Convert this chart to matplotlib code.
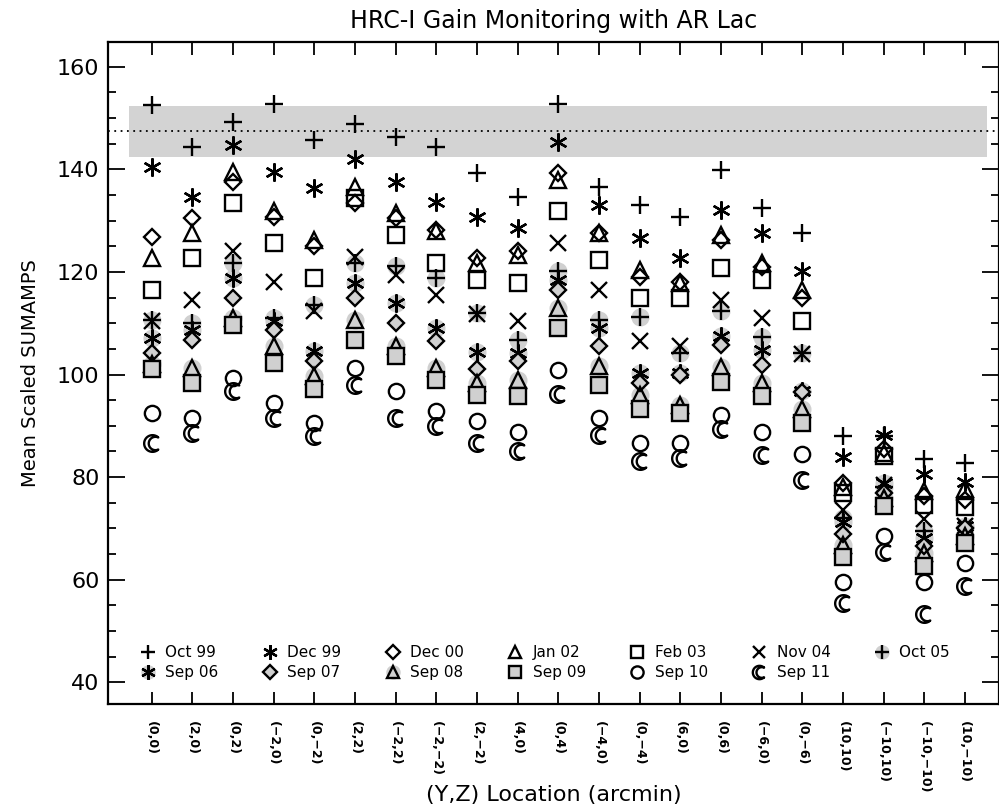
import numpy as np
import matplotlib
matplotlib.use("Agg")
import matplotlib.pyplot as plt
from matplotlib.path import Path

# field positions (Y,Z) in arcmin
locations = ["(0,0)", "(2,0)", "(0,2)", "(\u22122,0)", "(0,\u22122)", "(2,2)", "(\u22122,2)",
             "(\u22122,\u22122)", "(2,\u22122)", "(4,0)", "(0,4)", "(\u22124,0)", "(0,\u22124)",
             "(6,0)", "(0,6)", "(\u22126,0)", "(0,\u22126)", "(10,10)", "(\u221210,10)",
             "(\u221210,\u221210)", "(10,\u221210)"]

# mean scaled SUMAMPS per epoch, one value per location
oct99 = [152.5, 144.4, 149.3, 152.8, 145.7, 148.9, 146.3, 144.4, 139.2, 134.7, 152.8,
         136.6, 133.0, 130.8, 139.9, 132.4, 127.6, 88.0, 88.0, 83.5, 82.8]
dec99 = [140.4, 134.7, 144.7, 139.5, 136.3, 142.1, 137.6, 133.7, 130.8, 128.5, 145.4,
         133.0, 126.6, 122.7, 132.1, 127.6, 120.1, 84.0, 88.3, 80.7, 79.0]
dec00 = [126.9, 130.5, 137.6, 130.8, 125.0, 133.4, 130.5, 128.2, 122.7, 124.0, 139.2,
         127.6, 119.1, 118.1, 126.2, 121.0, 114.9, 78.8, 85.5, 76.3, 75.6]
jan02 = [122.7, 127.6, 139.5, 131.8, 126.3, 136.6, 131.4, 127.9, 121.7, 123.3, 137.9,
         127.6, 120.4, 117.8, 127.2, 121.7, 116.5, 78.0, 84.8, 77.3, 77.6]
feb03 = [116.5, 122.7, 133.4, 125.6, 118.8, 134.5, 127.2, 121.7, 118.5, 117.8, 131.8,
         122.4, 114.9, 114.9, 120.7, 118.5, 110.4, 77.0, 84.1, 74.6, 74.1]
nov04 = [110.5, 114.6, 124.0, 118.1, 112.3, 123.0, 119.4, 115.5, 111.8, 110.4, 125.6,
         116.5, 106.5, 105.5, 114.6, 111.0, 104.0, 73.6, 78.5, 71.8, 70.5]
oct05 = [110.7, 110.0, 121.7, 111.0, 113.6, 121.7, 121.1, 118.8, 112.0, 106.8, 120.1,
         110.7, 111.3, 104.2, 112.3, 107.4, 104.2, 72.1, 78.0, 69.5, 70.0]
sep06 = [107.1, 108.6, 118.8, 110.4, 104.5, 117.8, 113.9, 109.0, 104.4, 104.2, 118.5,
         109.1, 100.3, 100.3, 107.6, 104.8, 96.7, 71.2, 78.9, 68.2, 70.5]
sep07 = [104.2, 106.8, 114.9, 108.7, 102.6, 114.9, 110.0, 106.5, 101.0, 102.6, 116.5,
         105.5, 98.4, 100.0, 105.8, 101.9, 96.5, 68.9, 77.0, 66.6, 70.0]
sep08 = [102.0, 101.3, 111.0, 105.5, 99.7, 110.7, 105.5, 101.3, 98.4, 99.0, 113.0,
         101.6, 96.1, 94.1, 101.5, 98.4, 93.2, 66.7, 76.0, 65.3, 68.5]
sep09 = [101.0, 98.4, 109.7, 102.3, 97.1, 106.8, 103.6, 99.0, 96.1, 95.8, 109.1,
         98.0, 93.2, 92.5, 98.5, 95.8, 90.6, 64.4, 74.4, 62.7, 67.2]
sep10 = [92.5, 91.6, 99.3, 94.5, 90.6, 101.3, 96.7, 92.9, 90.9, 88.8, 100.8,
         91.5, 86.7, 86.7, 92.2, 88.8, 84.6, 59.5, 68.6, 59.6, 63.3]
sep11 = [86.7, 88.7, 96.7, 91.6, 88.0, 98.0, 91.6, 89.9, 86.7, 85.1, 96.2,
         88.2, 83.1, 83.8, 89.4, 84.4, 79.4, 55.4, 65.5, 53.4, 58.8]

# reference level and its tolerance band
ref_level = 147.4
band_low, band_high = 142.5, 152.3


def crescent_marker():
    # moon shaped symbol: outer circle minus an offset inner circle
    t_out = np.radians(np.linspace(46.4, 313.6, 40))
    t_in = np.radians(np.linspace(295.1, 64.9, 40))
    outer = np.column_stack([np.cos(t_out), np.sin(t_out)])
    inner = np.column_stack([0.35 + 0.8 * np.cos(t_in), 0.8 * np.sin(t_in)])
    verts = np.vstack([outer, inner, outer[:1]])
    return Path(verts, closed=True)


def main():
    gray = "#d0d0d0"
    lw = 1.7
    star = (6, 2, 0)
    moon = crescent_marker()

    plt.rcParams["font.family"] = "DejaVu Sans"
    fig = plt.figure(figsize=(9.99, 8.10), dpi=100)
    ax = fig.add_axes([0.108, 0.131, 0.892, 0.817])

    x = np.arange(1, len(locations) + 1)

    # gray band and dotted reference line
    ax.fill_between([0.45, 21.55], band_low, band_high, color="#d3d3d3", lw=0, zorder=0)
    ax.axhline(ref_level, color="black", ls=(0, (1, 2.5)), lw=1.3, zorder=1)

    def sym(y, marker, ms, face="none", z=3):
        return ax.plot(x, y, ls="none", marker=marker, ms=ms, mfc=face, mec="black",
                       mew=lw, color="black", zorder=z)[0]

    def bg(y, z):
        return ax.plot(x, y, ls="none", marker="o", ms=13, mfc=gray, mec="none", zorder=z)[0]

    h = {}
    h["Oct 99"] = sym(oct99, "+", 13, z=3)
    h["Dec 99"] = sym(dec99, star, 13, z=3)
    h["Dec 00"] = sym(dec00, "D", 8.5, z=3)
    h["Jan 02"] = sym(jan02, "^", 11.5, z=3)
    h["Feb 03"] = sym(feb03, "s", 11.5, z=3)
    h["Nov 04"] = sym(nov04, "x", 11, z=3)
    h["Oct 05"] = (bg(oct05, 2), sym(oct05, "+", 13, z=4))
    h["Sep 06"] = (bg(sep06, 2), sym(sep06, star, 13, z=4))
    h["Sep 07"] = sym(sep07, "D", 8.5, face=gray, z=5)
    h["Sep 08"] = (bg(sep08, 2), sym(sep08, "^", 11.5, z=5))
    h["Sep 09"] = sym(sep09, "s", 11.5, face=gray, z=5)
    h["Sep 10"] = sym(sep10, "o", 11, z=5)
    h["Sep 11"] = sym(sep11, moon, 12, z=5)

    # legend: first row 1999-2005, second row 2006-2011
    order = ["Oct 99", "Sep 06", "Dec 99", "Sep 07", "Dec 00", "Sep 08", "Jan 02",
             "Sep 09", "Feb 03", "Sep 10", "Nov 04", "Sep 11", "Oct 05"]
    ax.legend([h[k] for k in order], order, ncol=7, loc="lower left",
              bbox_to_anchor=(0.02, 0.015), frameon=False, fontsize=11,
              markerscale=0.8, handlelength=1.1, handletextpad=0.6,
              columnspacing=2.8, labelspacing=0.35)

    ax.set_xlim(-0.08, 21.84)
    ax.set_ylim(35.8, 164.8)
    ax.set_xticks(x)
    ax.set_xticklabels(locations, rotation=270, fontsize=9, fontweight="bold")
    ax.set_yticks(np.arange(40, 161, 20))
    ax.set_yticks(np.arange(40, 165, 5), minor=True)
    ax.tick_params(axis="x", direction="in", length=9, width=1.3, top=True, pad=12)
    ax.tick_params(axis="y", which="major", direction="in", length=12, width=1.3,
                   right=True, labelsize=16, pad=6)
    ax.tick_params(axis="y", which="minor", direction="in", length=6, width=1.3, right=True)
    for s in ax.spines.values():
        s.set_linewidth(1.6)

    ax.set_title("HRC-I Gain Monitoring with AR Lac", fontsize=17, pad=10)
    ax.set_xlabel("(Y,Z) Location (arcmin)", fontsize=16, va="center")
    ax.xaxis.set_label_coords(0.5, -0.137)
    ax.set_ylabel("Mean Scaled SUMAMPS", fontsize=14, labelpad=12)

    fig.savefig("out.png", dpi=100)


if __name__ == '__main__':
    main()
